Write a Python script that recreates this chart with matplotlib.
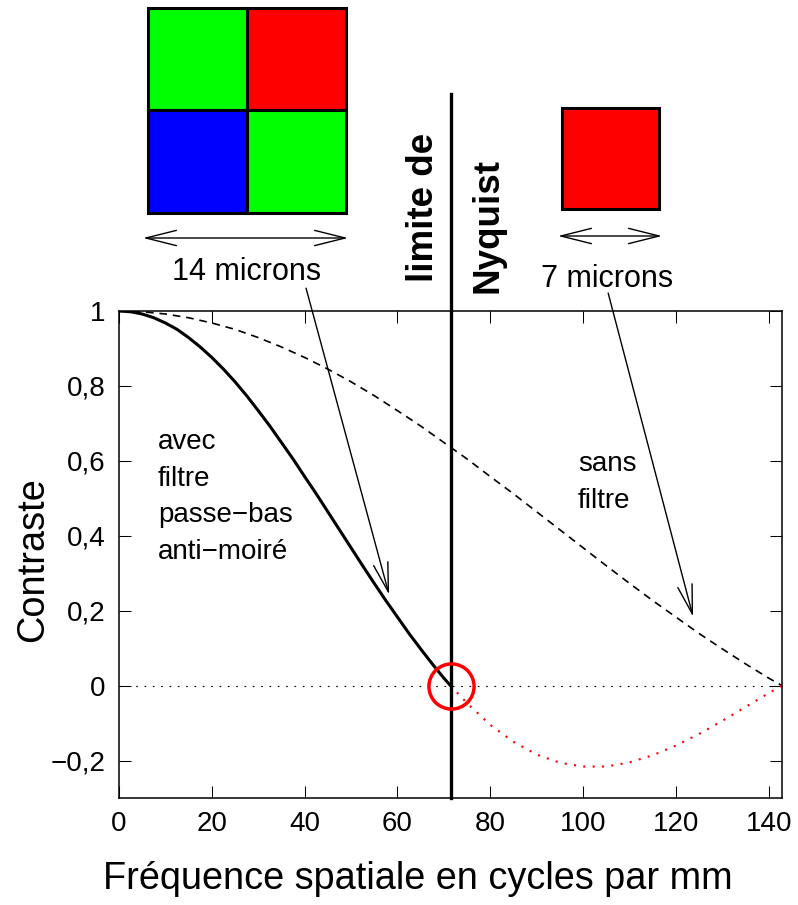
import matplotlib
matplotlib.use('Agg')  # rendu sans affichage

import matplotlib.pyplot as plt
from matplotlib.patches import Rectangle

plt.rcParams['font.family'] = ['Liberation Sans', 'DejaVu Sans']

# limites en cycles par mm
freq_nyq = 71.43
freq_max = 142.86

# capteur 7 microns, sans filtre (tirets)
freq_sans = [0, 5, 10, 15, 20, 25, 30, 35, 40, 45, 50, 55, 60, 65, 70,
             75, 80, 85, 90, 95, 100, 105, 110, 115, 120, 125, 130, 135, 140, 142.86]
contr_sans = [1.0, 0.998, 0.992, 0.982, 0.968, 0.951, 0.929, 0.904, 0.876, 0.845,
              0.811, 0.774, 0.734, 0.693, 0.649, 0.605, 0.558, 0.512, 0.464, 0.416,
              0.368, 0.320, 0.273, 0.227, 0.183, 0.139, 0.098, 0.058, 0.020, 0.0]

# avec filtre passe-bas anti-moire (trait plein jusqu'a Nyquist)
freq_avec = [0, 2.5, 5, 7.5, 10, 12.5, 15, 17.5, 20, 22.5, 25, 27.5, 30, 32.5, 35,
             37.5, 40, 42.5, 45, 47.5, 50, 52.5, 55, 57.5, 60, 62.5, 65, 67.5, 70, 71.43]
contr_avec = [1.0, 0.998, 0.992, 0.982, 0.968, 0.951, 0.929, 0.904, 0.876, 0.845,
              0.811, 0.774, 0.734, 0.693, 0.649, 0.605, 0.558, 0.512, 0.464, 0.416,
              0.368, 0.320, 0.273, 0.227, 0.183, 0.139, 0.098, 0.058, 0.020, 0.0]

# au-dela de Nyquist (pointilles rouges)
freq_repli = [71.43, 75, 80, 85, 90, 95, 100, 105, 110, 115, 120, 125, 130, 135, 140, 142.86]
contr_repli = [0.0, -0.047, -0.105, -0.150, -0.184, -0.206, -0.216, -0.216, -0.205,
               -0.186, -0.160, -0.129, -0.094, -0.057, -0.020, 0.0]

xticks = [0, 20, 40, 60, 80, 100, 120, 140]
yticks = [-0.2, 0, 0.2, 0.4, 0.6, 0.8, 1]
ytick_labels = ['\u22120,2', '0', '0,2', '0,4', '0,6', '0,8', '1']

fig = plt.figure(figsize=(7.98, 9.05), dpi=100)
ax = fig.add_axes([119 / 798, 107 / 905, 663 / 798, 487 / 905])

ax.plot([0, freq_max], [0, 0], color='k', lw=0.8, ls=(0, (1.5, 6)))
ax.plot(freq_sans, contr_sans, color='k', lw=1.2, ls=(0, (4.6, 3.5)))
ax.plot(freq_avec, contr_avec, color='k', lw=2.2)
ax.plot(freq_repli, contr_repli, color='red', lw=1.5, ls=(0, (1, 3.5)))
ax.plot([freq_nyq, freq_nyq], [-0.3, 1.58], color='k', lw=2.4, clip_on=False)
ax.plot([freq_nyq], [0], 'o', ms=32.5, mfc='none', mec='red', mew=2.5, clip_on=False)

ax.set_xlim(0, freq_max)
ax.set_ylim(-0.3, 1)
ax.set_xticks(xticks)
ax.set_yticks(yticks)
ax.set_yticklabels(ytick_labels)
ax.tick_params(direction='in', top=True, right=True, length=8.6, width=0.75,
               labelsize=20, pad=9.5)
for s in ax.spines.values():
    s.set_linewidth(1.1)

# va='baseline' cale la derniere ligne
ax.text(8.4, 0.338, 'avec\nfiltre\npasse\u2212bas\nanti\u2212moir\u00e9', fontsize=20,
        ha='left', va='baseline', linespacing=1.53)
ax.text(98.9, 0.474, 'sans\nfiltre', fontsize=20, ha='left', va='baseline', linespacing=1.53)

head = '->,head_length=2.1,head_width=0.53'
ax.annotate('', xy=(58.2, 0.243), xytext=(40.3, 1.061), annotation_clip=False,
            arrowprops=dict(arrowstyle=head, color='k', lw=1, shrinkA=0, shrinkB=0,
                            mutation_scale=10))
ax.annotate('', xy=(123.7, 0.184), xytext=(105.4, 1.048), annotation_clip=False,
            arrowprops=dict(arrowstyle=head, color='k', lw=1, shrinkA=0, shrinkB=0,
                            mutation_scale=10))

# calque en pixels pour les schemas du capteur et les textes hors du cadre
ov = fig.add_axes([0, 0, 1, 1], zorder=5)
ov.set_xlim(0, 798)
ov.set_ylim(905, 0)
ov.axis('off')
ov.patch.set_alpha(0)

bayer = [((148, 8), '#00ff00'), ((247, 8), '#ff0000'),
         ((148, 110.5), '#0000ff'), ((247, 110.5), '#00ff00')]
for (x0, y0), c in bayer:
    ov.add_patch(Rectangle((x0, y0), 99, 102.5, facecolor=c, edgecolor='k', lw=2.2))
ov.add_patch(Rectangle((562, 108), 97, 101, facecolor='#ff0000', edgecolor='k', lw=2.2))

dbl = '<->,head_length=2.2,head_width=0.55'
ov.annotate('', xy=(143, 238), xytext=(348, 238),
            arrowprops=dict(arrowstyle=dbl, color='k', lw=1, shrinkA=0, shrinkB=0,
                            mutation_scale=10))
ov.annotate('', xy=(558, 236), xytext=(662, 236),
            arrowprops=dict(arrowstyle=dbl, color='k', lw=1, shrinkA=0, shrinkB=0,
                            mutation_scale=10))

ov.text(247, 280, '14 microns', fontsize=22, ha='center', va='baseline')
ov.text(607, 287, '7 microns', fontsize=22, ha='center', va='baseline')

ov.text(433, 282, 'limite de', fontsize=26.5, fontweight='bold', rotation=90,
        rotation_mode='anchor', ha='left', va='baseline')
ov.text(498, 293, 'Nyquist', fontsize=26.5, fontweight='bold', rotation=90,
        rotation_mode='anchor', ha='left', va='baseline')

ov.text(43, 642, 'Contraste', fontsize=27.3, rotation=90, rotation_mode='anchor',
        ha='left', va='baseline')
ov.text(418, 889, 'Fr\u00e9quence spatiale en cycles par mm', fontsize=27.3,
        ha='center', va='baseline')

fig.savefig('out.png', dpi=100)
